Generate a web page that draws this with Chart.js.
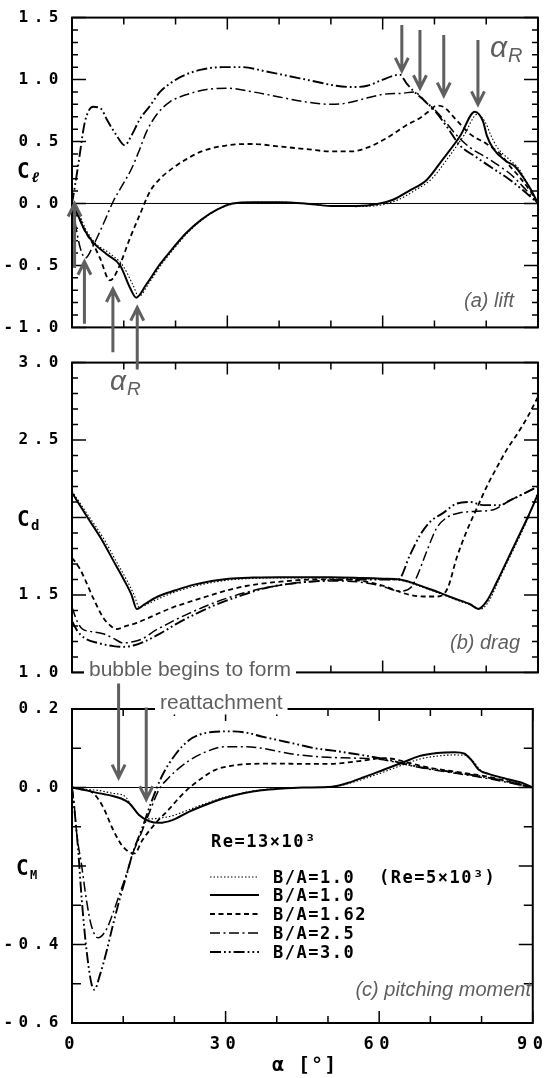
<!DOCTYPE html>
<html>
<head>
<meta charset="utf-8">
<script src="https://cdn.jsdelivr.net/npm/chart.js@4.4.1/dist/chart.umd.min.js"></script>
<style>
  html, body { margin: 0; padding: 0; background: #fff; }
  #wrap { position: relative; width: 554px; height: 1078px; overflow: hidden; }
  #wrap canvas { position: absolute; left: 0; }
</style>
</head>
<body>
<div id="wrap">
  <canvas id="cLift" width="554" height="345" style="top:0px"></canvas>
  <canvas id="cDrag" width="554" height="345" style="top:345px"></canvas>
  <canvas id="cMom" width="554" height="388" style="top:690px"></canvas>
  <canvas id="overlay" width="554" height="1078" style="top:0px"></canvas>
</div>
<script>
// angle of attack, degrees
const alphaMin = 0;
const alphaMax = 90;
const alphaLabels = [0, 30, 60, 90];

const seriesLabels = ["B/A=1.0 (Re=5×10³)", "B/A=1.0", "B/A=1.62", "B/A=2.5", "B/A=3.0"];

// (a) lift, pairs [alpha, Cl]
const liftBA10Re5 = [[0,0],[1.5,-0.1],[2.8,-0.22],[4.5,-0.32],[7.2,-0.4],[9.8,-0.5],[11.8,-0.66],[12.9,-0.75],[14.9,-0.64],[17.5,-0.48],[20,-0.35],[22.5,-0.23],[25.5,-0.12],[28.5,-0.04],[31.5,0],[35,0.01],[40,0.01],[45,0],[50,-0.02],[55,-0.025],[60,-0.01],[63,0.03],[66,0.1],[69.5,0.2],[72.5,0.36],[75.7,0.55],[78.3,0.72],[79.9,0.65],[80.8,0.56],[82,0.46],[84.3,0.36],[86.3,0.28],[88.2,0.14],[90,0]];
const liftBA10 = [[0,0],[1.2,-0.1],[2.5,-0.22],[4.2,-0.32],[6.7,-0.41],[9.3,-0.5],[11.2,-0.68],[12.4,-0.76],[14.4,-0.65],[17,-0.49],[19.5,-0.36],[22,-0.24],[25,-0.13],[28,-0.05],[31,0],[35,0.01],[40,0.01],[45,0],[50,-0.02],[55,-0.02],[59,-0.005],[62,0.03],[65,0.1],[68.5,0.19],[71.5,0.35],[74.9,0.54],[77.8,0.74],[79.4,0.66],[80.1,0.55],[81.4,0.44],[83.9,0.34],[85.5,0.3],[87,0.22],[88.5,0.12],[90,0]];
const liftBA162 = [[0,0],[1.2,-0.1],[2.5,-0.22],[4.1,-0.33],[5.4,-0.44],[7.3,-0.62],[8,-0.6],[9.3,-0.49],[11.2,-0.28],[13.1,-0.09],[15.1,0.1],[17,0.2],[19.6,0.29],[22.2,0.36],[25,0.42],[30,0.47],[35,0.48],[40,0.46],[45,0.44],[50,0.42],[54,0.42],[57,0.45],[60,0.51],[62,0.56],[64.5,0.63],[67.2,0.69],[69.1,0.75],[70.4,0.79],[71.7,0.78],[74.3,0.67],[76.9,0.56],[80.1,0.48],[82.7,0.4],[84.6,0.3],[86.5,0.21],[88.5,0.1],[90,0]];
const liftBA25 = [[0,0],[0.8,-0.2],[1.6,-0.36],[2.6,-0.44],[4.1,-0.34],[6,-0.17],[8,0.02],[9.9,0.16],[11.5,0.28],[13.1,0.44],[14.4,0.58],[16.4,0.72],[18.9,0.82],[22.2,0.88],[26,0.92],[30,0.93],[35,0.9],[40,0.86],[45,0.82],[50,0.8],[53,0.81],[56,0.84],[60,0.88],[64,0.89],[66,0.9],[67.2,0.87],[68.5,0.81],[70,0.76],[71.7,0.68],[74.3,0.55],[76.9,0.45],[80.1,0.37],[83.3,0.28],[84.6,0.24],[87,0.14],[90,0]];
const liftBA30 = [[0,0],[0.6,0.15],[1.2,0.31],[2.5,0.66],[4.1,0.78],[5.7,0.76],[6.7,0.68],[8.6,0.55],[10.2,0.47],[11.5,0.55],[13.1,0.68],[15.1,0.79],[17,0.9],[19,0.97],[21.4,1.03],[25,1.08],[29,1.1],[33,1.1],[37,1.07],[40.5,1.04],[44,1.01],[47.4,0.98],[51,0.95],[54,0.94],[57,0.95],[59.5,0.99],[62,1.03],[63.3,1.04],[64.6,0.97],[65.9,0.91],[67.5,0.85],[69.8,0.76],[72.4,0.62],[74.9,0.47],[78.2,0.37],[81.4,0.28],[84.6,0.19],[87,0.11],[90,0]];

// (b) drag, pairs [alpha, Cd]
const dragBA10Re5 = [[0,2.17],[3,2.02],[6,1.87],[8.5,1.72],[10.5,1.6],[12,1.5],[13,1.42],[14.5,1.44],[17,1.48],[20,1.52],[23.5,1.555],[27,1.58],[30.5,1.597],[35,1.607],[40,1.61],[50,1.61],[56,1.605],[60,1.6],[63.3,1.595],[66,1.57],[68.5,1.54],[71,1.51],[73.6,1.475],[77,1.435],[79,1.41],[80.5,1.46],[82.5,1.6],[84.5,1.74],[86.5,1.88],[88.5,2.03],[90,2.17]];
const dragBA10 = [[0,2.16],[3,2.0],[5.7,1.86],[8,1.72],[10,1.6],[11.5,1.5],[12.5,1.41],[14,1.44],[16.6,1.49],[20,1.53],[23.4,1.565],[27,1.59],[30.3,1.605],[35,1.612],[40,1.615],[50,1.615],[56,1.61],[60,1.605],[63.3,1.6],[66,1.575],[68.5,1.545],[71,1.515],[73.6,1.48],[76.9,1.44],[78.5,1.41],[80.1,1.46],[82,1.58],[84,1.72],[86,1.86],[88,2.0],[90,2.15]];
const dragBA162 = [[0,1.74],[1.5,1.67],[4.1,1.48],[6,1.355],[7.5,1.3],[8.6,1.28],[10.5,1.3],[12.5,1.32],[15,1.355],[17,1.385],[19.5,1.42],[22.2,1.45],[26,1.49],[30,1.53],[34,1.56],[40,1.585],[47,1.6],[52,1.6],[56,1.59],[60,1.56],[63.3,1.52],[65.3,1.5],[68,1.49],[70.4,1.49],[72.5,1.54],[74.3,1.74],[76.2,1.91],[78.2,2.06],[80.1,2.2],[82,2.32],[84,2.44],[86,2.54],[88,2.65],[90,2.78]];
const dragBA25 = [[0,1.42],[1,1.33],[2,1.28],[3.5,1.265],[6,1.25],[8,1.22],[9.9,1.19],[12,1.2],[13.8,1.22],[16,1.27],[18.3,1.31],[20,1.34],[22.2,1.375],[26,1.43],[30,1.48],[34,1.52],[38,1.55],[44,1.58],[50,1.59],[55,1.585],[59.5,1.56],[63.3,1.525],[65.5,1.55],[66.5,1.61],[68.5,1.78],[70.4,1.93],[72.4,2.0],[74.9,2.03],[78.2,2.04],[81.4,2.05],[84,2.1],[87,2.15],[90,2.2]];
const dragBA30 = [[0,1.33],[1,1.27],[2.5,1.22],[5,1.19],[8,1.17],[10,1.165],[12,1.175],[14,1.2],[17,1.25],[20,1.31],[24,1.38],[28,1.44],[33,1.5],[38,1.55],[44,1.58],[50,1.595],[55,1.6],[60,1.6],[63,1.6],[65.3,1.76],[67.2,1.885],[69.1,1.97],[71.7,2.03],[74.3,2.09],[76.9,2.1],[79.4,2.08],[82.7,2.08],[84.6,2.11],[87,2.15],[90,2.2]];

// (c) pitching moment, pairs [alpha, CM]
const momBA10Re5 = [[0,0],[3,-0.005],[5.4,-0.008],[8,-0.015],[10.3,-0.022],[11.8,-0.05],[13.8,-0.077],[15.5,-0.08],[17,-0.078],[19.6,-0.072],[22.8,-0.057],[26.9,-0.037],[30,-0.024],[33.7,-0.013],[37,-0.006],[40.5,-0.002],[45,0],[50.8,0.001],[54,0.01],[57,0.022],[61,0.04],[64.5,0.057],[67.8,0.072],[71.3,0.08],[74.7,0.083],[76.7,0.082],[78.3,0.068],[79.8,0.044],[82,0.032],[85,0.02],[88.3,0.008],[90,0]];
const momBA10 = [[0,0],[3,-0.008],[5.4,-0.015],[7.5,-0.02],[9.6,-0.028],[11.2,-0.04],[13.1,-0.07],[15.1,-0.086],[17,-0.09],[19.6,-0.083],[22.8,-0.062],[26.9,-0.04],[30,-0.026],[33.7,-0.014],[37,-0.007],[40.5,-0.003],[45,0],[50.8,0.002],[54,0.012],[57,0.026],[61,0.046],[64.5,0.063],[67.8,0.08],[71.3,0.088],[74.7,0.09],[76.7,0.086],[78,0.07],[79.4,0.046],[81.5,0.034],[84.9,0.022],[88.3,0.01],[90,0]];
const momBA162 = [[0,0],[2,-0.005],[4.1,-0.014],[6,-0.048],[8,-0.107],[9.9,-0.15],[12.2,-0.168],[13.8,-0.133],[16.4,-0.09],[18.9,-0.056],[21,-0.025],[23,0],[25.5,0.025],[28,0.045],[31,0.055],[35,0.06],[40.5,0.061],[45,0.06],[50,0.06],[54,0.064],[57.6,0.07],[61,0.075],[63,0.072],[66,0.062],[70,0.05],[74,0.042],[78,0.034],[81.5,0.027],[85,0.016],[88,0.006],[90,0]];
const momBA25 = [[0,0],[0.4,-0.04],[0.9,-0.115],[1.9,-0.2],[2.8,-0.285],[3.8,-0.353],[5.1,-0.383],[6.7,-0.362],[8,-0.32],[9.6,-0.26],[10.9,-0.21],[11.8,-0.17],[13.1,-0.13],[15.1,-0.064],[17,-0.005],[18.9,0.025],[20.5,0.045],[22.8,0.068],[26,0.09],[30,0.104],[34,0.104],[38,0.098],[41,0.09],[45,0.082],[50,0.077],[55,0.075],[60,0.072],[63,0.065],[66,0.056],[70,0.046],[74,0.038],[78,0.03],[81.5,0.022],[85,0.013],[88,0.005],[90,0]];
const momBA30 = [[0,0],[0.5,-0.06],[1.2,-0.158],[1.9,-0.285],[2.8,-0.41],[3.8,-0.5],[4.4,-0.515],[5.4,-0.48],[6.7,-0.42],[8,-0.35],[9.3,-0.285],[10.6,-0.226],[11.8,-0.17],[13.8,-0.1],[15.7,-0.03],[17.6,0.03],[20.2,0.084],[22.8,0.12],[25,0.135],[28,0.142],[31,0.143],[34,0.14],[37,0.13],[40.5,0.12],[44,0.11],[47.4,0.1],[51,0.094],[54,0.088],[57,0.082],[59.6,0.076],[62,0.07],[65,0.06],[68,0.052],[72,0.044],[76,0.036],[80,0.028],[84,0.018],[87,0.009],[90,0]];

// alpha_R arrows: [alpha, tail value, tip value]
const liftArrowsDown = [[63.7, 1.44, 1.07], [67.2, 1.40, 0.93], [71.8, 1.36, 0.87], [78.4, 1.32, 0.80]];
const liftArrowsUp = [[0.5, -0.52, 0.0], [2.4, -0.97, -0.47], [7.9, -1.2, -0.69], [12.6, -1.34, -0.84]];
// bubble begins to form, reattachment
const momentArrows = [[9.1, 0.265, 0.025], [14.5, 0.204, -0.03]];

const MONO = "'DejaVu Sans Mono', 'Liberation Mono', monospace";
const SANS = "'Liberation Sans', Arial, sans-serif";
const GRAY = "#5f5f5f";

const lineStyles = [
  { width: 1.1, dash: [1.5, 2] },
  { width: 2, dash: [] },
  { width: 1.8, dash: [5, 3.5] },
  { width: 1.5, dash: [10, 3.5, 2, 3.5] },
  { width: 1.9, dash: [11, 3, 1.8, 3, 1.8, 3] }
];

function toXY(pairs) {
  return pairs.map(p => ({ x: p[0], y: p[1] }));
}

function buildDatasets(list) {
  return list.map((pts, i) => ({
    label: seriesLabels[i],
    data: toXY(pts),
    borderColor: "#000",
    borderWidth: lineStyles[i].width,
    borderDash: lineStyles[i].dash,
    pointRadius: 0,
    fill: false,
    tension: 0.4,
    cubicInterpolationMode: "monotone"
  }));
}

// inward ticks on all four sides, frame, zero line
const framePlugin = {
  id: "frame",
  beforeDatasetsDraw(chart, args, o) {
    if (!o.zero) return;
    const { ctx, chartArea: a, scales: { y } } = chart;
    const py = y.getPixelForValue(0);
    ctx.save();
    ctx.strokeStyle = "#000";
    ctx.lineWidth = 1;
    ctx.beginPath();
    ctx.moveTo(a.left, py);
    ctx.lineTo(a.right, py);
    ctx.stroke();
    ctx.restore();
  },
  afterDraw(chart, args, o) {
    const { ctx, chartArea: a, scales: { x, y } } = chart;
    ctx.save();
    ctx.strokeStyle = "#000";
    ctx.lineWidth = 1.5;
    ctx.beginPath();
    y.ticks.forEach(t => {
      const py = y.getPixelForValue(t.value);
      const q = t.value / o.majorEvery;
      const len = Math.abs(q - Math.round(q)) < 1e-6 ? 14 : o.minorLen;
      ctx.moveTo(a.left, py); ctx.lineTo(a.left + len, py);
      ctx.moveTo(a.right, py); ctx.lineTo(a.right - len, py);
    });
    x.ticks.forEach(t => {
      const px = x.getPixelForValue(t.value);
      const len = t.value % 30 === 0 ? 12 : 7;
      ctx.moveTo(px, a.top); ctx.lineTo(px, a.top + len);
      ctx.moveTo(px, a.bottom); ctx.lineTo(px, a.bottom - len);
    });
    ctx.stroke();
    ctx.lineWidth = 2;
    ctx.strokeRect(a.left, a.top, a.right - a.left, a.bottom - a.top);
    ctx.restore();
  }
};

// typewriter-like spacing for the tick labels
const spacingPlugin = {
  id: "spacing",
  beforeDraw(chart) { chart.ctx.letterSpacing = "5.5px"; },
  afterDraw(chart) { chart.ctx.letterSpacing = "0px"; }
};

function makePanel(id, list, yMin, yMax, labelled, frame, pad, showX) {
  return new Chart(document.getElementById(id), {
    type: "line",
    data: { datasets: buildDatasets(list) },
    options: {
      responsive: false,
      animation: false,
      events: [],
      layout: { padding: pad },
      plugins: { legend: { display: false }, tooltip: { enabled: false }, frame: frame },
      scales: {
        x: {
          type: "linear",
          min: alphaMin,
          max: alphaMax,
          grid: { display: false, drawTicks: false },
          border: { display: false },
          ticks: {
            display: showX,
            stepSize: 10,
            autoSkip: false,
            maxRotation: 0,
            padding: 11,
            color: "#000",
            font: { family: MONO, size: 17, weight: "bold" },
            callback: v => alphaLabels.includes(v) ? String(v) : ""
          },
          afterFit: s => { s.height = showX ? 55 : 0; }
        },
        y: {
          type: "linear",
          min: yMin,
          max: yMax,
          grid: { display: false, drawTicks: false },
          border: { display: false },
          ticks: {
            stepSize: 0.1,
            autoSkip: false,
            padding: 8,
            color: "#000",
            font: { family: MONO, size: 16, weight: "bold" },
            callback: v => {
              const r = Math.round(v * 10) / 10;
              return labelled.some(l => Math.abs(l - r) < 1e-6) ? r.toFixed(1) : "";
            }
          },
          afterFit: s => { s.width = 72; }
        }
      }
    },
    plugins: [framePlugin, spacingPlugin]
  });
}

const lift = makePanel("cLift", [liftBA10Re5, liftBA10, liftBA162, liftBA25, liftBA30],
  -1, 1.5, [1.5, 1.0, 0.5, 0.0, -0.5, -1.0],
  { zero: true, majorEvery: 0.5, minorLen: 6 }, { top: 15, bottom: 17, left: 0, right: 16 }, false);
const drag = makePanel("cDrag", [dragBA10Re5, dragBA10, dragBA162, dragBA25, dragBA30],
  1, 3, [3.0, 2.5, 1.5, 1.0],
  { zero: false, majorEvery: 0.5, minorLen: 6 }, { top: 17, bottom: 15, left: 0, right: 16 }, false);
const mom = makePanel("cMom", [momBA10Re5, momBA10, momBA162, momBA25, momBA30],
  -0.6, 0.2, [0.2, 0.0, -0.4, -0.6],
  { zero: true, majorEvery: 0.2, minorLen: 9 }, { top: 19, bottom: 0, left: 0, right: 16 }, true);

// ---------- overlay: annotations, axis titles, legend ----------
const ov = document.getElementById("overlay").getContext("2d");
const tops = { lift: 0, drag: 345, mom: 690 };

function X(chart, a) { return chart.scales.x.getPixelForValue(a); }
function Y(chart, top, v) { return top + chart.scales.y.getPixelForValue(v); }

function arrow(x, y0, y1) {
  const dir = y1 > y0 ? 1 : -1;
  ov.beginPath();
  ov.moveTo(x, y0);
  ov.lineTo(x, y1 - dir * 2);
  ov.moveTo(x - 6.5, y1 - dir * 13);
  ov.lineTo(x, y1);
  ov.lineTo(x + 6.5, y1 - dir * 13);
  ov.stroke();
}

function alphaR(x, y, big, small) {
  ov.fillStyle = GRAY;
  ov.font = "italic " + big + "px " + SANS;
  ov.fillText("α", x, y);
  const w = ov.measureText("α").width;
  ov.font = "italic " + small + "px " + SANS;
  ov.fillText("R", x + w + 1, y + 5);
}

function labelBox(text, x, y, size) {
  ov.font = size + "px " + SANS;
  const w = ov.measureText(text).width;
  ov.fillStyle = "#fff";
  ov.fillRect(x - 5, y - size * 0.82, w + 10, size * 1.08);
  ov.fillStyle = GRAY;
  ov.fillText(text, x, y);
}

ov.strokeStyle = GRAY;
ov.lineWidth = 3;
ov.lineJoin = "miter";
liftArrowsDown.concat(liftArrowsUp).forEach(([a, from, to]) => {
  arrow(X(lift, a), Y(lift, tops.lift, from), Y(lift, tops.lift, to));
});

labelBox("bubble begins to form", 89, 676, 21);
labelBox("reattachment", 160, 709, 21);
ov.strokeStyle = GRAY;
ov.lineWidth = 3;
momentArrows.forEach(([a, from, to]) => {
  arrow(X(mom, a), Y(mom, tops.mom, from), Y(mom, tops.mom, to));
});

alphaR(490, 57, 30, 20);
alphaR(110, 390, 28, 19);

ov.fillStyle = GRAY;
ov.textAlign = "right";
ov.font = "italic 20px " + SANS;
ov.fillText("(a) lift", 514, 307);
ov.fillText("(b) drag", 520, 649);
ov.fillText("(c) pitching moment", 531, 996);
ov.textAlign = "left";

// axis titles
function coefTitle(sub, x, y, subSize, subStyle) {
  ov.fillStyle = "#000";
  ov.font = "bold 21px " + MONO;
  ov.fillText("C", x, y);
  ov.font = subStyle + " " + subSize + "px " + MONO;
  ov.fillText(sub, x + 14, y + 4);
}
coefTitle("ℓ", 17, 178, 14, "bold italic");
coefTitle("d", 17, 526, 14, "bold");
coefTitle("M", 16, 875, 12, "bold");

ov.fillStyle = "#000";
ov.font = "bold 20px " + MONO;
ov.letterSpacing = "1px";
ov.fillText("α [°]", 272, 1071);

// legend
ov.font = "bold 17px " + MONO;
ov.letterSpacing = "1.5px";
ov.fillText("Re=13×10³", 211, 847);
const legendRows = [877, 895, 914, 933, 952];
seriesLabels.forEach((lab, i) => {
  const y = legendRows[i];
  ov.save();
  ov.strokeStyle = "#000";
  ov.lineWidth = lineStyles[i].width;
  ov.setLineDash(lineStyles[i].dash);
  ov.beginPath();
  ov.moveTo(210, y);
  ov.lineTo(259, y);
  ov.stroke();
  ov.restore();
  const parts = lab.split(" ");
  ov.fillStyle = "#000";
  ov.fillText(parts[0], 273, y + 6);
  if (parts[1]) ov.fillText(parts[1], 379, y + 6);
});
ov.letterSpacing = "0px";
</script>
</body>
</html>
